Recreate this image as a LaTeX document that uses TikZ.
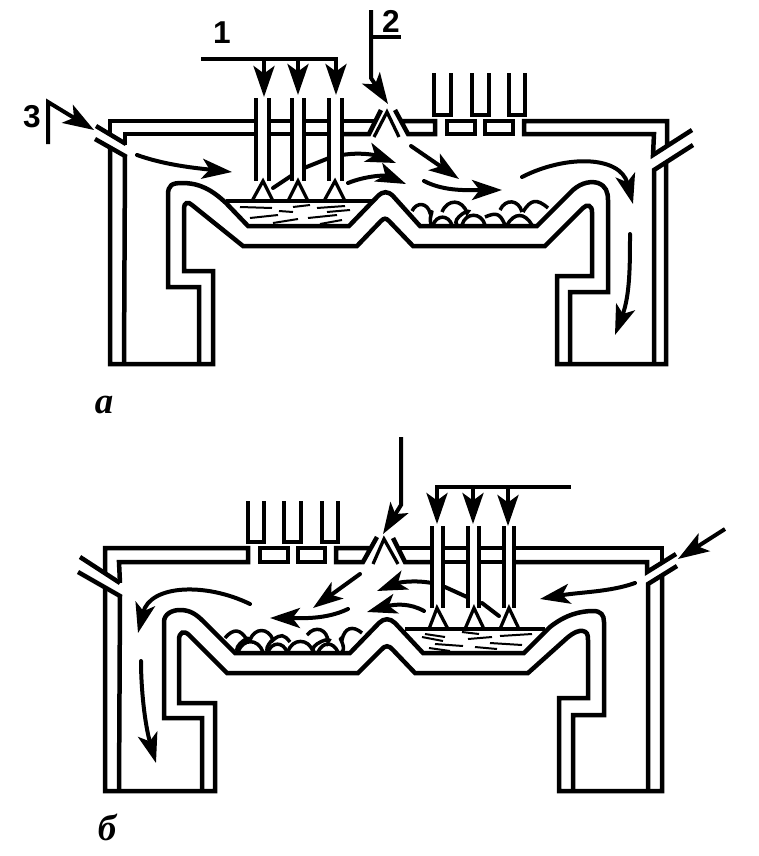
\documentclass[tikz,border=0pt]{standalone}
\usepackage{fontspec}
\usetikzlibrary{arrows.meta}
\setmainfont{Liberation Serif}
\newfontfamily\digitfont{Liberation Sans}

\tikzset{
  wall/.style={line width=0.09cm,line join=miter},
  cone/.style={line width=0.065cm},
  liquid/.style={line width=0.04cm},
  stone/.style={line width=0.07cm,looseness=1.5},
  feed/.style={line width=0.08cm,-{Stealth[length=0.62cm,width=0.42cm,inset=0.15cm]}},
  stream/.style={line width=0.08cm,line cap=round,-{Stealth[length=0.6cm,width=0.4cm,inset=0.15cm]}},
  thinstream/.style={line width=0.08cm,line cap=round},
  number/.style={font=\digitfont\bfseries\fontsize{18}{20}\selectfont,inner sep=0pt},
  letter/.style={font=\bfseries\itshape\fontsize{21}{24}\selectfont,inner sep=0pt}
}

\begin{document}
\begin{tikzpicture}[x=0.02cm,y=-0.02cm]
      \useasboundingbox (0,0) rectangle (758,856);

      % furnace a
      \draw [wall] (125,145) -- (125,134) -- (256,134);
      \draw [wall] (95,139) -- (125,156) -- (124,364);
      \draw [wall] (96,126) -- (126,144);
      \draw [wall] (110,135) -- (110,121) -- (256,121);
      \draw [wall] (110,148) -- (110,364) -- (213,364) -- (213,271) -- (184,271) -- (184,208)
        .. controls (184,203) and (188,201) .. (192,205) -- (243,246) -- (357,246) -- (381,221)
        .. controls (384,218) and (386,218) .. (389,221) -- (413,246) -- (545,246) -- (583,208)
        .. controls (587,204) and (592,205) .. (592,212) -- (592,276) -- (557,276) -- (557,364) -- (666,364) -- (666,162);
      \draw [wall] (199,364) -- (199,287) -- (168,287) -- (168,195)
        .. controls (168,185) and (172,183) .. (182,183) .. controls (200,183) and (212,190) .. (226,203)
        -- (248,226) -- (349,226) -- (378,196) .. controls (383,191) and (388,191) .. (393,196)
        -- (420,226) -- (537,226) -- (573,190) .. controls (582,182) and (592,181) .. (598,183)
        .. controls (606,186) and (608,192) .. (608,200) -- (608,292) -- (570,292) -- (570,364);
      \draw [wall] (654,364) -- (654,170) -- (693,145);
      \draw [wall] (692,130) -- (653,155) -- (654,134) -- (524,134) -- (524,121) -- (667,121) -- (667,147);

      \draw [wall] (269,121) -- (291,121);
      \draw [wall] (269,134) -- (291,134);
      \draw [wall] (304,121) -- (329,121);
      \draw [wall] (304,134) -- (329,134);
      \draw [wall] (342,121) -- (375,121);
      \draw [wall] (342,134) -- (369,134) -- (381,110);
      \draw [wall] (395,110) -- (408,134) -- (435,134) -- (435,121) -- (402,121);
      \draw [cone] (374,137) -- (387,112) -- (399,137);
      \draw [wall] (447,121) rectangle (475,134);
      \draw [wall] (485,121) rectangle (513,134);

      \draw [wall] (434,73) -- (434,115) -- (451,115) -- (451,73);
      \draw [wall] (472,73) -- (472,115) -- (489,115) -- (489,73);
      \draw [wall] (509,73) -- (509,115) -- (525,115) -- (525,73);

      \draw [wall] (256,98) -- (256,181);
      \draw [wall] (269,98) -- (269,181);
      \draw [wall] (292,98) -- (292,181);
      \draw [wall] (304,98) -- (304,181);
      \draw [wall] (329,98) -- (329,181);
      \draw [wall] (342,98) -- (342,181);

      \draw [cone] (252,201) -- (263,181) -- (273,201);
      \draw [cone] (288,201) -- (298,181) -- (308,201);
      \draw [cone] (324,201) -- (335,181) -- (345,201);
      \draw [cone] (226,201) -- (372,201);

      \draw [liquid] (240,207) -- (272,208);
      \draw [liquid] (279,211) -- (293,212);
      \draw [liquid] (293,207) -- (310,205);
      \draw [liquid] (317,208) -- (345,206);
      \draw [liquid] (327,212) -- (350,210);
      \draw [liquid] (250,218) -- (278,215);
      \draw [liquid] (273,223) -- (298,219);
      \draw [liquid] (308,218) -- (337,215);
      \draw [liquid] (320,224) -- (342,220);

      \draw [stone] (412,211) to [bend left=70] (430,213) to (432,225);
      \draw [stone] (433,225) to [bend left=70] (452,225);
      \draw [stone] (442,212) to [bend left=70] (467,213) to (457,225);
      \draw [stone] (462,225) to [bend left=75] (485,225);
      \draw [stone] (485,217) to [bend left=45] (505,225);
      \draw [stone] (500,210) to [bend left=70] (522,212);
      \draw [stone] (507,225) to [bend left=60] (532,225);
      \draw [stone] (523,212) to [bend left=50] (548,208);

      \draw [wall] (201,59) -- (338,59);
      \draw [feed] (264,59) -- (264,97);
      \draw [feed] (298,59) -- (298,95);
      \draw [feed] (336,57) -- (336,95);
      \node [number] (numone) at (222,33) {1};

      \draw [wall] (371,37) -- (401,37);
      \draw [feed] (371,10) -- (371,78) -- (388,104);
      \node [number] (numtwo) at (391,21) {2};

      \draw [feed] (48,144) -- (48,102) -- (94,130);
      \node [number] (numthree) at (32,117) {3};

      \draw [stream] (137,155) .. controls (165,165) and (195,168) .. (232,172);
      \draw [thinstream] (273,188) -- (291,176);
      \draw [thinstream] (304,168) -- (329,158);
      \draw [stream] (342,155) .. controls (360,152) and (375,155) .. (396,163);
      \draw [stream] (348,183) .. controls (365,176) and (385,175) .. (406,184);
      \draw [stream] (411,146) -- (459,179);
      \draw [stream] (424,181) .. controls (445,192) and (470,190) .. (502,190);
      \draw [stream] (522,177) .. controls (565,155) and (620,155) .. (633,204);
      \draw [stream] (630,234) .. controls (630,265) and (630,295) .. (615,335);

      \node [letter] (captiona) at (104,405) {а};

      % furnace b
      \draw [wall] (120,583) -- (119,562) -- (248,562) -- (248,548) -- (105,548) -- (105,574);
      \draw [wall] (80,557) -- (120,583);
      \draw [wall] (78,572) -- (120,596) -- (119,791);
      \draw [wall] (105,588) -- (105,791) -- (215,791) -- (215,703) -- (179,703) -- (179,640)
        .. controls (179,632) and (184,630) .. (189,635) -- (227,673) -- (358,673) -- (381,650)
        .. controls (385,645) and (389,645) .. (393,650) -- (415,673) -- (528,673) -- (567,638)
        .. controls (574,632) and (580,630) .. (583,631) .. controls (587,632) and (588,634) .. (588,640)
        -- (588,698) -- (559,698) -- (559,791) -- (662,791) -- (662,575);
      \draw [wall] (202,791) -- (202,718) -- (164,718) -- (164,622)
        .. controls (164,614) and (172,610) .. (180,610) .. controls (190,610) and (196,614) .. (204,622)
        -- (235,653) -- (350,653) -- (379,623) .. controls (384,618) and (390,618) .. (395,623)
        -- (423,653) -- (524,653) -- (550,627) .. controls (565,615) and (580,611) .. (593,611)
        .. controls (601,611) and (604,615) .. (604,622) -- (604,715) -- (573,715) -- (573,791);
      \draw [wall] (648,791) -- (648,584) -- (677,566);
      \draw [wall] (676,554) -- (647,572) -- (647,562) -- (514,562);
      \draw [wall] (514,548) -- (662,548) -- (662,564);

      \draw [wall] (443,548) -- (468,548);
      \draw [wall] (443,562) -- (468,562);
      \draw [wall] (479,548) -- (504,548);
      \draw [wall] (479,562) -- (504,562);
      \draw [wall] (398,548) -- (432,548);
      \draw [wall] (393,538) -- (405,562) -- (432,562);
      \draw [cone] (373,564) -- (384,539) -- (398,564);
      \draw [wall] (377,537) -- (363,562) -- (336,562) -- (336,548) -- (370,548);
      \draw [wall] (260,548) rectangle (288,562);
      \draw [wall] (298,548) rectangle (325,562);

      \draw [wall] (248,501) -- (248,542) -- (264,542) -- (264,501);
      \draw [wall] (284,501) -- (284,542) -- (301,542) -- (301,501);
      \draw [wall] (322,501) -- (322,542) -- (338,542) -- (338,501);

      \draw [wall] (432,526) -- (432,608);
      \draw [wall] (443,526) -- (443,608);
      \draw [wall] (468,526) -- (468,608);
      \draw [wall] (479,526) -- (479,608);
      \draw [wall] (504,526) -- (504,608);
      \draw [wall] (514,526) -- (514,608);

      \draw [cone] (429,629) -- (437,608) -- (448,629);
      \draw [cone] (465,629) -- (474,608) -- (484,629);
      \draw [cone] (500,629) -- (509,608) -- (519,629);
      \draw [cone] (405,629) -- (545,629);

      \draw [liquid] (425,634) -- (445,637);
      \draw [liquid] (422,637) -- (443,641);
      \draw [liquid] (462,632) -- (479,634);
      \draw [liquid] (468,639) -- (492,637);
      \draw [liquid] (500,636) -- (532,634);
      \draw [liquid] (435,644) -- (463,646);
      \draw [liquid] (490,643) -- (522,645);
      \draw [liquid] (429,648) -- (450,651);
      \draw [liquid] (475,647) -- (497,649);

      \draw [stone] (225,638) to [bend left=55] (247,640) to (238,652);
      \draw [stone] (238,652) to [bend left=70] (263,652);
      \draw [stone] (250,640) to [bend left=70] (273,640) to (268,652);
      \draw [stone] (273,640) to [bend left=45] (290,642);
      \draw [stone] (268,652) to [bend left=70] (287,652);
      \draw [stone] (288,652) to [bend left=75] (313,652);
      \draw [stone] (307,635) to [bend left=70] (328,642) to (314,652);
      \draw [stone] (318,652) to [bend left=65] (338,652);
      \draw [stone] (342,652) to (342,640) to [bend left=60] (362,633);

      \draw [wall] (435,487) -- (571,487);
      \draw [feed] (437,487) -- (437,524);
      \draw [feed] (473,487) -- (473,524);
      \draw [feed] (508,487) -- (508,526);

      \draw [feed] (401,437) -- (401,505) -- (383,534);
      \draw [feed] (725,529) -- (678,559);

      \draw [stream] (635,583) .. controls (610,592) and (580,592) .. (540,599);
      \draw [thinstream] (499,616) -- (482,603);
      \draw [thinstream] (467,597) -- (445,587);
      \draw [stream] (432,583) .. controls (415,580) and (400,582) .. (377,591);
      \draw [stream] (424,611) .. controls (410,603) and (395,604) .. (367,612);
      \draw [stream] (360,574) -- (313,608);
      \draw [stream] (348,609) .. controls (325,620) and (300,618) .. (270,618);
      \draw [stream] (250,604) .. controls (205,582) and (150,585) .. (138,633);
      \draw [stream] (141,661) .. controls (141,690) and (145,725) .. (156,763);

      \node [letter] (captionb) at (107,827) {б};

    \end{tikzpicture}
\end{document}
